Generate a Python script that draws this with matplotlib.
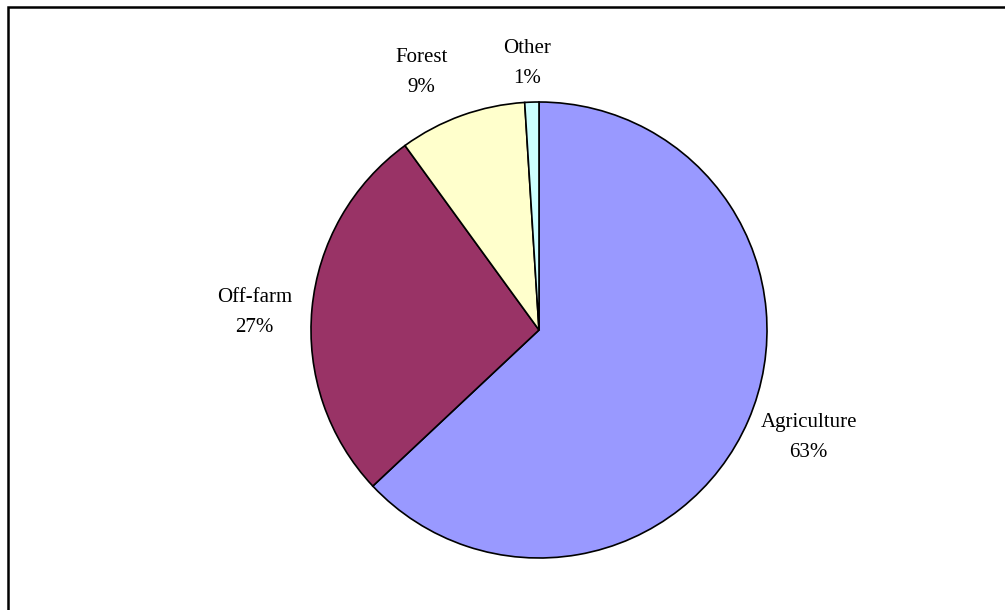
import numpy as np
import matplotlib.pyplot as plt
from matplotlib.patches import Rectangle

plt.rcParams['font.family'] = ['Liberation Serif', 'DejaVu Serif']

categories = ['Agriculture', 'Off-farm', 'Forest', 'Other']
shares = [63, 27, 9, 1]
colors = ['#9999FF', '#993366', '#FFFFCC', '#CCFFFF']
# label placement: radius multiple and angle nudge (degrees)
label_dist = [1.27, 1.25, 1.25, 1.18]
label_shift = [2.1, 1.4, 4.5, 0.8]

fig = plt.figure(figsize=(10.05, 6.1), dpi=100)
fig.patch.set_facecolor('white')

# chart border, running off the right and bottom edges
top = (610 - 7) / 610
fig.patches.append(Rectangle((8 / 1005, -0.1), 1.2, top + 0.1,
                             transform=fig.transFigure, fill=False,
                             edgecolor='black', linewidth=1.8))

ax = fig.add_axes([311 / 1005, 52 / 610, 456 / 1005, 456 / 610])
labels = [f'{c}\n{v}%' for c, v in zip(categories, shares)]
wedges, texts = ax.pie(shares, colors=colors, startangle=90, counterclock=False,
                       radius=1.0, labels=labels, labeldistance=1.25,
                       wedgeprops=dict(edgecolor='black', linewidth=1.2),
                       textprops=dict(fontsize=15, color='black'))

for w, t, d, s in zip(wedges, texts, label_dist, label_shift):
    ang = np.deg2rad((w.theta1 + w.theta2) / 2 + s)
    t.set_position((d * np.cos(ang), d * np.sin(ang) - 0.01))
    t.set_ha('center')
    t.set_va('center')
    t.set_multialignment('center')
    t.set_linespacing(1.8)

ax.set_xlim(-1, 1)
ax.set_ylim(-1, 1)
ax.set_aspect('equal')

fig.savefig('out.png', dpi=100)
